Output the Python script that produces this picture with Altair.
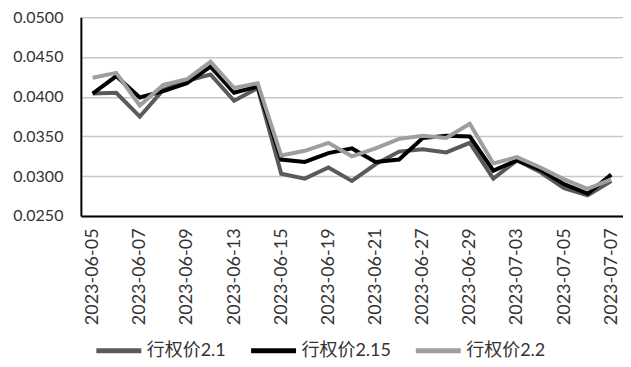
import altair as alt
import pandas as pd

dates = ["2023-06-05", "2023-06-06", "2023-06-07", "2023-06-08", "2023-06-09",
         "2023-06-12", "2023-06-13", "2023-06-14", "2023-06-15", "2023-06-16",
         "2023-06-19", "2023-06-20", "2023-06-21", "2023-06-26", "2023-06-27",
         "2023-06-28", "2023-06-29", "2023-06-30", "2023-07-03", "2023-07-04",
         "2023-07-05", "2023-07-06", "2023-07-07"]

s_21 = [0.0404, 0.0405, 0.0375, 0.0409, 0.0420, 0.0428, 0.0395, 0.0411, 0.0303, 0.0297,
        0.0311, 0.0294, 0.0315, 0.0331, 0.0334, 0.0330, 0.0342, 0.0297, 0.0320, 0.0305,
        0.0285, 0.0276, 0.0294]
s_215 = [0.0404, 0.0426, 0.0399, 0.0407, 0.0417, 0.0438, 0.0405, 0.0413, 0.0321, 0.0318,
         0.0329, 0.0335, 0.0318, 0.0321, 0.0348, 0.0351, 0.0350, 0.0307, 0.0320, 0.0308,
         0.0290, 0.0278, 0.0302]
s_22 = [0.0424, 0.0430, 0.0389, 0.0415, 0.0422, 0.0444, 0.0411, 0.0417, 0.0326, 0.0332,
        0.0342, 0.0325, 0.0335, 0.0347, 0.0351, 0.0348, 0.0366, 0.0316, 0.0324, 0.0311,
        0.0296, 0.0284, 0.0296]

series_names = ["行权价2.1", "行权价2.15", "行权价2.2"]
series_colors = ["#5a5a5a", "#000000", "#9e9e9e"]
label_dates = dates[::2]

rows = []
for name, vals in zip(series_names, [s_21, s_215, s_22]):
    for d, v in zip(dates, vals):
        rows.append({"date": d, "value": v, "series": name})
df = pd.DataFrame(rows)

FONT = "Lato, Noto Sans CJK SC"

chart = alt.Chart(df).mark_line(strokeWidth=4, strokeJoin="miter").encode(
    x=alt.X("date:O", sort=dates,
            scale=alt.Scale(type="point", padding=0.5),
            axis=alt.Axis(title=None, values=label_dates, labelAngle=270,
                          ticks=False, domainColor="#000000", domainWidth=2,
                          labelFont=FONT, labelFontSize=18, labelColor="#333333",
                          labelPadding=12, grid=False)),
    y=alt.Y("value:Q",
            scale=alt.Scale(domain=[0.025, 0.05], nice=False),
            axis=alt.Axis(title=None, values=[0.025, 0.03, 0.035, 0.04, 0.045, 0.05],
                          format=".4f", ticks=False, domainColor="#000000", domainWidth=2,
                          gridColor="#c8c8c8", gridWidth=1.5,
                          labelFont=FONT, labelFontSize=16, labelColor="#333333",
                          labelPadding=18)),
    color=alt.Color("series:N", sort=series_names,
                    scale=alt.Scale(domain=series_names, range=series_colors),
                    legend=alt.Legend(title=None, orient="none", direction="horizontal",
                                      legendX=13, legendY=309,
                                      symbolType="stroke", symbolSize=2025,
                                      symbolStrokeWidth=5, columnPadding=14,
                                      labelOffset=3,
                                      labelFont=FONT, labelFontSize=18,
                                      labelColor="#333333")),
).properties(
    width=543, height=199,
    autosize=alt.AutoSizeParams(type="none"),
    padding={"left": 73, "top": 9, "right": 0, "bottom": 143},
).configure_view(stroke=None)

chart.save("out.html", embed_options={"renderer": "svg", "actions": False})
